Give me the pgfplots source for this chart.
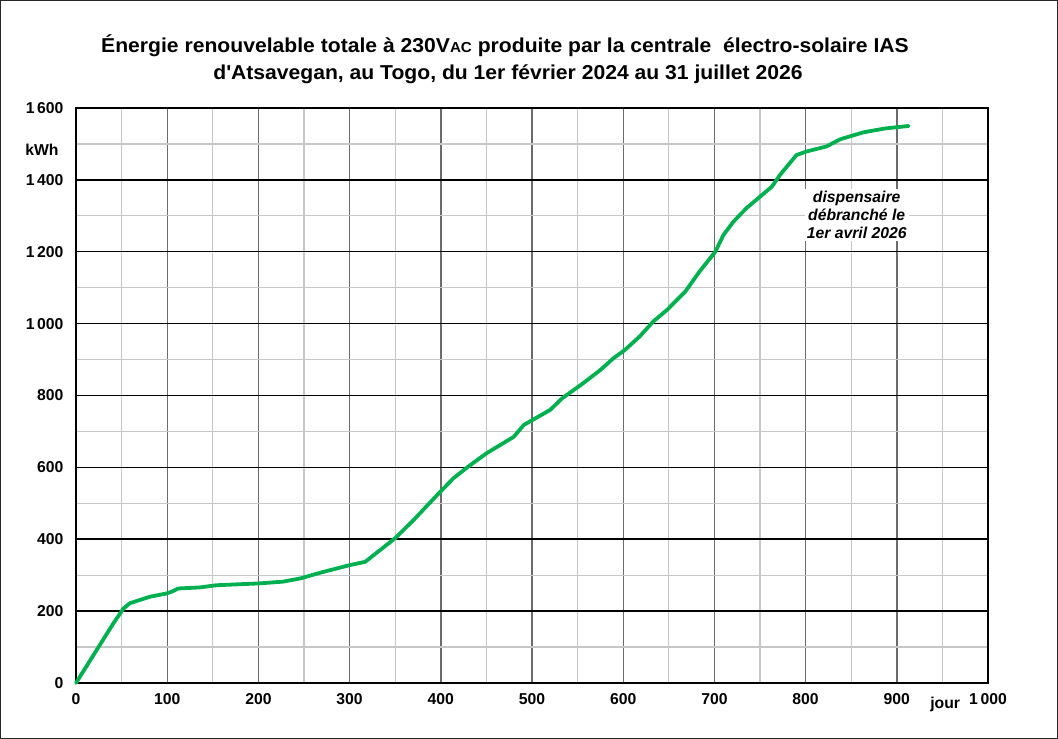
\documentclass[border=0pt]{standalone}
\usepackage{pgfplots}
\pgfplotsset{compat=1.18}
\usepackage{fontspec}
\setmainfont{Liberation Sans}
\newfontfamily\titlefont[FakeStretch=1.05]{Liberation Sans}
\definecolor{curvegreen}{RGB}{0,176,80}
\begin{document}
\begin{tikzpicture}[x=1bp,y=1bp]
\useasboundingbox (-76,-56) rectangle (982,683);
\draw[line width=1.2bp, black!85] (-75.4,-55.4) rectangle (981.4,682.4);
\node[anchor=base, font=\titlefont\fontsize{20.2}{24}\selectfont\bfseries] at (429,630) {Énergie renouvelable totale à 230V{\fontsize{14.5}{15}\selectfont AC} produite par la centrale\ \ électro-solaire IAS};
\node[anchor=base, font=\titlefont\fontsize{20.2}{24}\selectfont\bfseries] at (432,603) {d\textquotesingle Atsavegan, au Togo, du 1er février 2024 au 31 juillet 2026};
\begin{axis}[
  at={(0,0)}, anchor=south west, scale only axis,
  width=912bp, height=575bp,
  xmin=0, xmax=1000, ymin=0, ymax=1600,
  xtick={0,100,...,1000},
  xticklabels={0,100,200,300,400,500,600,700,800,900,1\,000},
  ytick={0,200,...,1600},
  yticklabels={0,200,400,600,800,1\,000,1\,200,1\,400,1\,600},
  tick label style={font=\fontsize{15.8}{16}\selectfont\bfseries},
  yticklabel style={xshift=-9bp},
  xticklabel style={yshift=-7bp},
  major tick length=0pt, minor tick length=0pt,
  minor x tick num=1, minor y tick num=1,
  xmajorgrids, xminorgrids, yminorgrids,
  major grid style={line width=1.4bp, color=black!58},
  minor grid style={line width=1.3bp, color=black!22},
  extra y ticks={200,400,...,1400},
  extra y tick labels={},
  extra y tick style={grid=major, major grid style={line width=1.5bp, color=black}},
  axis line style={line width=2.5bp},
  clip=false,
]
\addplot[curvegreen, line width=3.8bp, line join=round, line cap=round] coordinates {
(0,0) (41,166) (52,207) (59,222) (81,240) (99,249) (105,254) (112,263)
(136,266) (154,272) (200,277) (227,282) (246,291) (268,307) (300,328)
(317,337) (350,403) (370,453) (396,523) (414,570) (430,602) (450,639)
(480,685) (491,718) (520,760) (533,792) (556,834) (575,871) (589,903)
(602,927) (618,964) (633,1006) (648,1038) (668,1089) (684,1146) (701,1200)
(710,1247) (721,1284) (735,1321) (763,1381) (772,1414) (790,1469) (801,1479)
(823,1493) (838,1513) (863,1532) (887,1543) (913,1550)
};
\node[fill=white, align=center, inner sep=2bp, font=\fontsize{15.8}{18}\selectfont\bfseries\itshape] at (axis cs:856,1302) {dispensaire\\débranché le\\1er avril 2026};
\node[anchor=east, font=\fontsize{15.8}{16}\selectfont\bfseries] at (axis cs:0,1483) [xshift=-14bp] {kWh};
\node[anchor=base, font=\fontsize{15.8}{16}\selectfont\bfseries] at (axis cs:953,0) [yshift=-26bp] {jour};
\end{axis}
\end{tikzpicture}
\end{document}
